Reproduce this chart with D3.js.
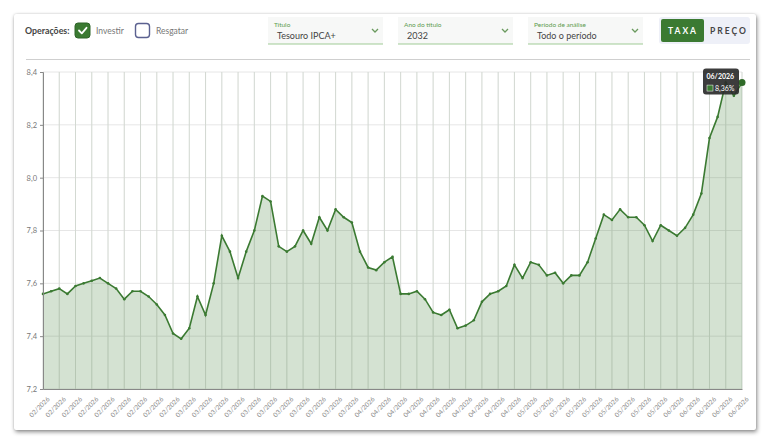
<!DOCTYPE html>
<html>
<head>
<meta charset="utf-8">
<script src="https://cdn.jsdelivr.net/npm/d3@7"></script>
<style>
  body { margin: 0; background: #fff; font-family: Lato, "Open Sans", sans-serif; }
  #card {
    position: absolute; left: 14px; top: 14px; width: 742px; height: 416px;
    background: #fff; border-radius: 2px;
    box-shadow: 1px 2px 4px rgba(0,0,0,0.45), 0 0 2px rgba(0,0,0,0.15);
  }
  svg { position: absolute; left: 0; top: 0; }
</style>
</head>
<body>
<div id="card"></div>
<script>
// tick labels (one every other point)
var tickLabels = [
  "02/2026","02/2026","02/2026","02/2026","02/2026","02/2026","02/2026","02/2026","02/2026",
  "03/2026","03/2026","03/2026","03/2026","03/2026","03/2026","03/2026","03/2026","03/2026","03/2026","03/2026",
  "04/2026","04/2026","04/2026","04/2026","04/2026","04/2026","04/2026","04/2026","04/2026","04/2026",
  "05/2026","05/2026","05/2026","05/2026","05/2026","05/2026","05/2026","05/2026","05/2026",
  "06/2026","06/2026","06/2026","06/2026","06/2026"
];

// taxa (%)
var rates = [
  7.56, 7.57, 7.58, 7.56, 7.59, 7.60, 7.61, 7.62, 7.60, 7.58,
  7.54, 7.57, 7.57, 7.55, 7.52, 7.48, 7.41, 7.39, 7.43, 7.55,
  7.48, 7.60, 7.78, 7.72, 7.62, 7.72, 7.80, 7.93, 7.91, 7.74,
  7.72, 7.74, 7.80, 7.75, 7.85, 7.80, 7.88, 7.85, 7.83, 7.72,
  7.66, 7.65, 7.68, 7.70, 7.56, 7.56, 7.57, 7.54, 7.49, 7.48,
  7.50, 7.43, 7.44, 7.46, 7.53, 7.56, 7.57, 7.59, 7.67, 7.62,
  7.68, 7.67, 7.63, 7.64, 7.60, 7.63, 7.63, 7.68, 7.77, 7.86,
  7.84, 7.88, 7.85, 7.85, 7.82, 7.76, 7.82, 7.80, 7.78, 7.81,
  7.86, 7.94, 8.15, 8.23, 8.36, 8.31, 8.36
];

var yTicks = [7.2, 7.4, 7.6, 7.8, 8.0, 8.2, 8.4];

var dropdowns = [
  {label: "Título", value: "Tesouro IPCA+"},
  {label: "Ano do título", value: "2032"},
  {label: "Período de análise", value: "Todo o período"}
];

var green = "#3b7a32";
var fmt1 = d => d3.format(".1f")(d).replace(".", ",");
var fmt2 = d => d3.format(".2f")(d).replace(".", ",");

var margin = {top: 72, right: 26, bottom: 56, left: 43},
    width = 768, height = 445;

var svg = d3.select("body").append("svg")
    .attr("width", width)
    .attr("height", height);

// ---- controls ----
var ctl = svg.append("g");

ctl.append("text").attr("x", 25).attr("y", 34)
    .style("font-size", "8.8px").style("font-weight", "700").style("fill", "#444")
    .text("Operações:");

ctl.append("rect").attr("x", 75).attr("y", 23).attr("width", 15).attr("height", 15)
    .attr("rx", 3).style("fill", green).style("stroke", "#2f6428");
ctl.append("path").attr("d", "M79,30.5 L81.8,33.3 L86.5,27.8")
    .style("fill", "none").style("stroke", "#fff").style("stroke-width", 1.8)
    .style("stroke-linecap", "round").style("stroke-linejoin", "round");
ctl.append("text").attr("x", 96).attr("y", 34)
    .style("font-size", "8.5px").style("fill", "#777").text("Investir");

ctl.append("rect").attr("x", 135.5).attr("y", 23.5).attr("width", 14).attr("height", 14)
    .attr("rx", 3).style("fill", "#fff").style("stroke", "#5b6190").style("stroke-width", 1.4);
ctl.append("text").attr("x", 156).attr("y", 34)
    .style("font-size", "8.5px").style("fill", "#777").text("Resgatar");

var dd = ctl.selectAll(".dd").data(dropdowns).enter().append("g")
    .attr("class", "dd")
    .attr("transform", (d, i) => "translate(" + (268 + i * 130) + ",17)");
dd.append("rect").attr("width", 115).attr("height", 27).style("fill", "#f7f8f7");
dd.append("line").attr("x1", 0).attr("x2", 115).attr("y1", 27).attr("y2", 27)
    .style("stroke", "#9fcb95").style("stroke-width", 1);
dd.append("text").attr("x", 6).attr("y", 10)
    .style("font-size", "6.5px").style("fill", "#5e9c50").text(d => d.label);
dd.append("text").attr("x", 9).attr("y", 22)
    .style("font-size", "9px").style("fill", "#444").text(d => d.value);
dd.append("path").attr("d", "M104,12 L107,15 L110,12")
    .style("fill", "none").style("stroke", "#6a9a5e").style("stroke-width", 1.3);

// toggle
ctl.append("rect").attr("x", 659).attr("y", 17).attr("width", 91).attr("height", 27)
    .attr("rx", 3).style("fill", "#eef0f8");
ctl.append("rect").attr("x", 661).attr("y", 19).attr("width", 43).attr("height", 23)
    .attr("rx", 2).style("fill", green);
ctl.append("text").attr("x", 683).attr("y", 33.5).attr("text-anchor", "middle")
    .style("font-size", "8.5px").style("font-weight", "700").style("letter-spacing", "2px")
    .style("fill", "#fff").text("TAXA");
ctl.append("text").attr("x", 729).attr("y", 33.5).attr("text-anchor", "middle")
    .style("font-size", "8.5px").style("font-weight", "700").style("letter-spacing", "2px")
    .style("fill", "#444").text("PREÇO");

// separator
svg.append("line").attr("x1", 26).attr("x2", 750).attr("y1", 59.5).attr("y2", 59.5)
    .style("stroke", "#cfcfcf").style("stroke-width", 1);

// ---- chart ----
var x = d3.scaleLinear()
    .domain([0, rates.length - 1])
    .range([margin.left, width - margin.right]);

var y = d3.scaleLinear()
    .domain([7.2, 8.4])
    .range([height - margin.bottom, margin.top]);

var tickIdx = tickLabels.map((d, i) => i * 2);

var chart = svg.append("g");

// grid
chart.append("g").selectAll("line").data(tickIdx).enter().append("line")
    .attr("x1", d => x(d)).attr("x2", d => x(d))
    .attr("y1", y(8.4)).attr("y2", y(7.2))
    .style("stroke", "#e6e6e6").style("stroke-width", 1);
chart.append("g").selectAll("line").data(yTicks).enter().append("line")
    .attr("x1", x(0)).attr("x2", x(rates.length - 1))
    .attr("y1", d => y(d)).attr("y2", d => y(d))
    .style("stroke", "#e6e6e6").style("stroke-width", 1);

var area = d3.area()
    .x((d, i) => x(i))
    .y0(y(7.2))
    .y1(d => y(d));

var line = d3.line()
    .x((d, i) => x(i))
    .y(d => y(d));

chart.append("path").datum(rates).attr("d", area)
    .style("fill", green).style("fill-opacity", 0.22);

// grid again over fill, faint
chart.append("g").selectAll("line").data(tickIdx).enter().append("line")
    .attr("x1", d => x(d)).attr("x2", d => x(d))
    .attr("y1", y(8.4)).attr("y2", y(7.2))
    .style("stroke", "#9bb596").style("stroke-opacity", 0.25).style("stroke-width", 1);

chart.append("path").datum(rates).attr("d", line)
    .style("fill", "none").style("stroke", green).style("stroke-width", 1.6);

chart.append("g").selectAll("circle").data(rates).enter().append("circle")
    .attr("cx", (d, i) => x(i)).attr("cy", d => y(d)).attr("r", 1.3)
    .style("fill", green);

// axes
var yAxis = d3.axisLeft(y).tickValues(yTicks).tickFormat(fmt1).tickSize(3).tickPadding(3);
var gy = chart.append("g").attr("transform", "translate(" + margin.left + ",0)").call(yAxis);
gy.select(".domain").style("stroke", "#888");
gy.selectAll(".tick line").style("stroke", "#888");
gy.selectAll("text").style("font-size", "7.5px").style("fill", "#777")
    .style("font-family", "Lato, sans-serif");

var xAxis = d3.axisBottom(x).tickValues(tickIdx)
    .tickFormat((d, i) => tickLabels[i]).tickSize(0).tickPadding(0);
var gx = chart.append("g").attr("transform", "translate(0," + (height - margin.bottom) + ")").call(xAxis);
gx.select(".domain").style("stroke", "#888");
gx.selectAll("text")
    .attr("text-anchor", "end")
    .attr("transform", "translate(5,9) rotate(-45)")
    .attr("x", 0).attr("y", 0).attr("dy", "0.35em")
    .style("font-size", "6.5px").style("fill", "#8a8a8a")
    .style("font-family", "Lato, sans-serif");

// highlighted last point + tooltip
var last = rates.length - 1;
chart.append("circle").attr("cx", x(last)).attr("cy", y(rates[last])).attr("r", 3.5)
    .style("fill", "#2f6a28");

var tip = chart.append("g")
    .attr("transform", "translate(" + (x(last) - 39) + "," + (y(rates[last]) - 14) + ")");
tip.append("rect").attr("width", 36).attr("height", 26).attr("rx", 3)
    .style("fill", "#2b2b2b").style("fill-opacity", 0.92);
tip.append("text").attr("x", 3.5).attr("y", 10)
    .style("font-size", "7px").style("font-weight", "700").style("fill", "#fff")
    .text(tickLabels[tickLabels.length - 1]);
tip.append("rect").attr("x", 4).attr("y", 16.5).attr("width", 6).attr("height", 6)
    .style("fill", green).style("stroke", "#fff").style("stroke-width", 0.5);
tip.append("text").attr("x", 12).attr("y", 22.5)
    .style("font-size", "7px").style("fill", "#fff")
    .text(fmt2(rates[last]) + "%");
</script>
</body>
</html>
